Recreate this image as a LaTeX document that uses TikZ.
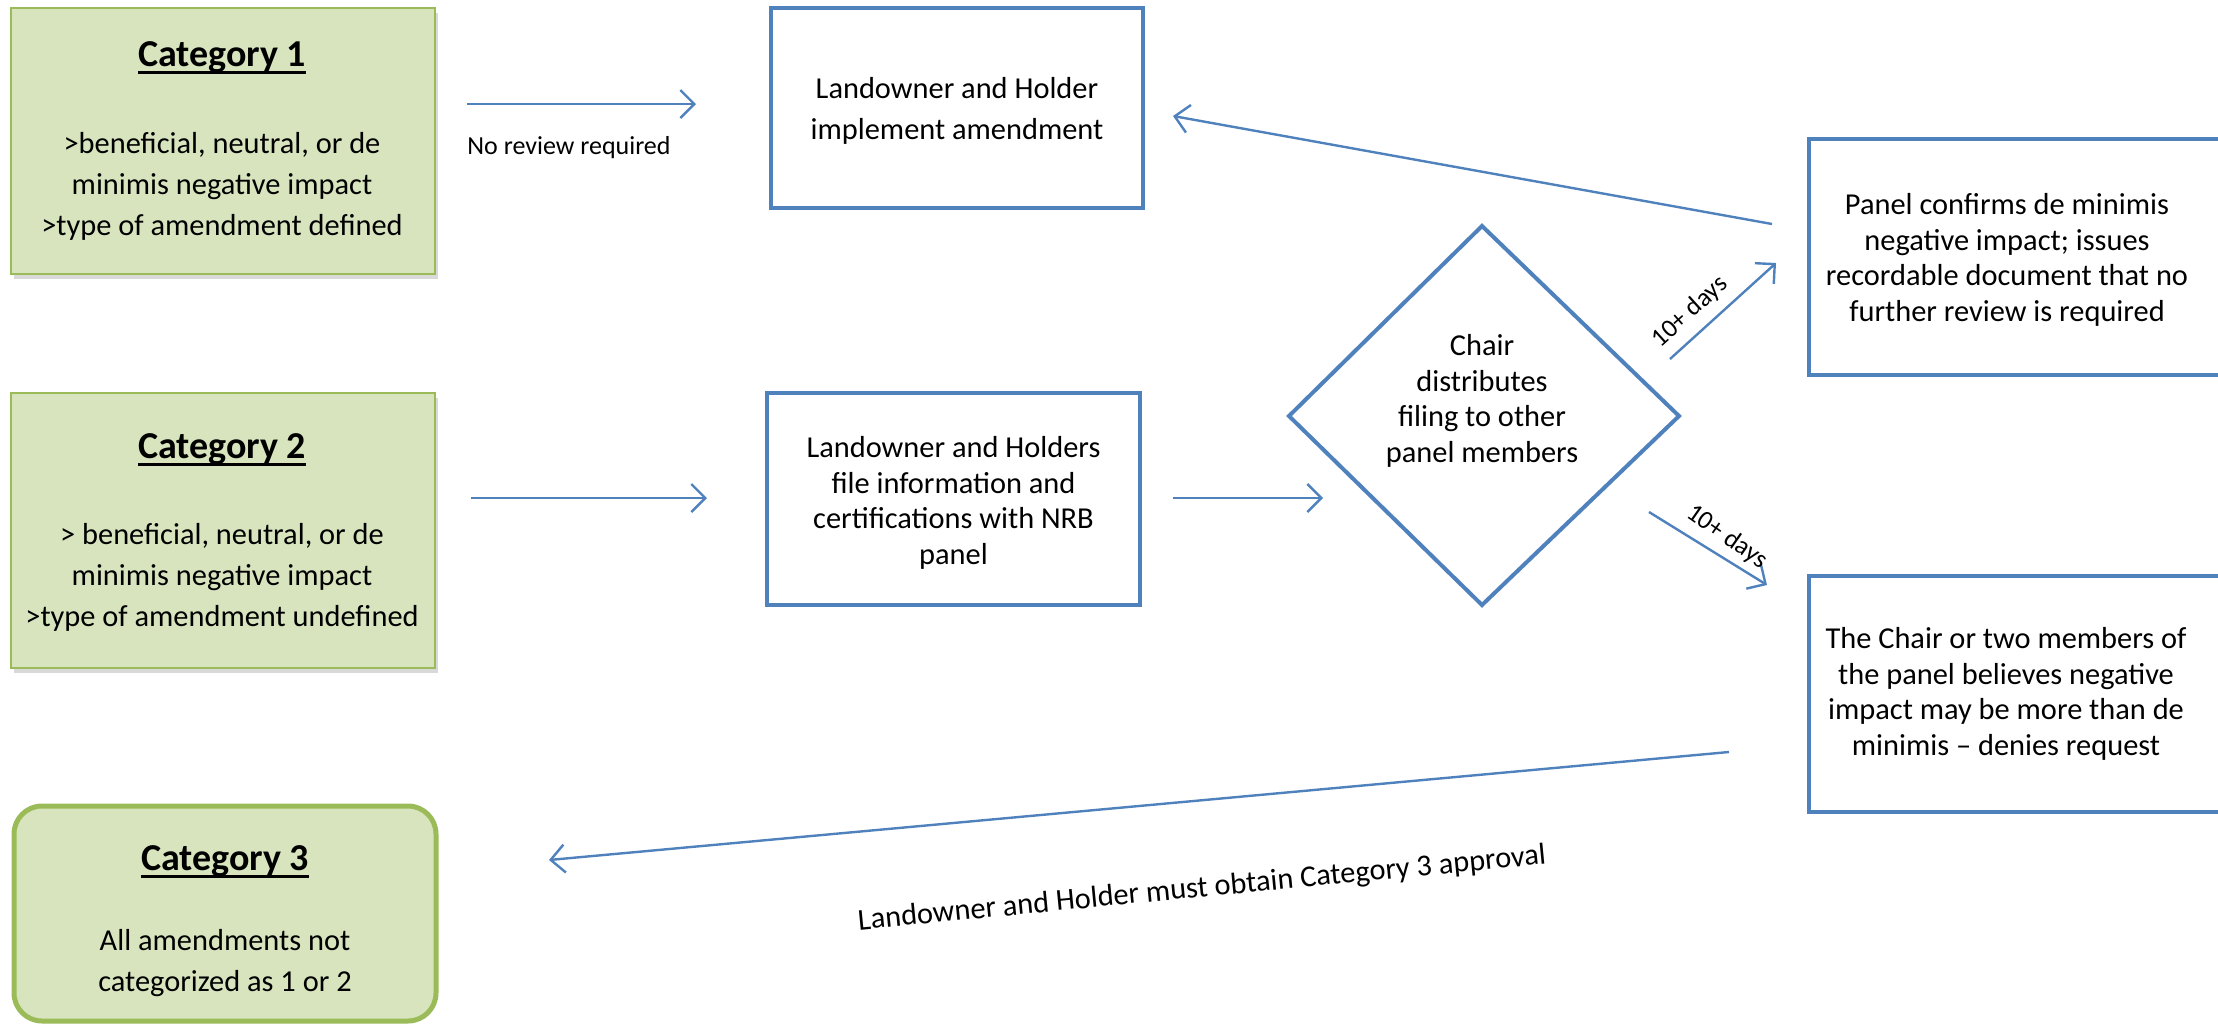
\documentclass[tikz,border=0pt]{standalone}
\usepackage{fontspec}
\setmainfont{Carlito}
\usetikzlibrary{arrows.meta,shadows}
\definecolor{catfill}{HTML}{D7E4BD}
\definecolor{catline}{HTML}{9BBB59}
\definecolor{boxblue}{HTML}{4F81BD}
\newcommand\thickul[1]{\setbox0\hbox{#1}\rlap{\raisebox{-3.8pt}{\rule{\wd0}{1.7pt}}}\box0}
\begin{document}
\begin{tikzpicture}[x=0.5pt,y=-0.5pt,
  catbox/.style={draw=catline, fill=catfill, line width=1.3pt, inner sep=0pt,
    minimum width=212pt, drop shadow={shadow xshift=1.5pt, shadow yshift=-2.5pt, opacity=0.3}},
  cat3box/.style={draw=catline, fill=catfill, line width=2.5pt, inner sep=0pt, rounded corners=14pt,
    minimum width=211pt, minimum height=107.5pt},
  bluebox/.style={draw=boxblue, line width=2pt, inner sep=0pt},
  cattitle/.style={font=\fontsize{19}{23}\selectfont\bfseries, inner sep=0pt},
  bodytxt/.style={font=\fontsize{15.2}{20.5}\selectfont, align=center, inner sep=0pt},
  tighttxt/.style={font=\fontsize{15.2}{17.8}\selectfont, align=center, inner sep=0pt},
  smalltxt/.style={font=\fontsize{13}{16}\selectfont, inner sep=0pt},
  flow/.style={draw=boxblue, line width=1.2pt, -{Straight Barb[length=7pt,width=14pt,line width=1.2pt]}},
]
\useasboundingbox (0,0) rectangle (2218,1024);
\clip (0,0) rectangle (2218,1024);

% Category boxes
\node[catbox, minimum height=133pt] (cat1) at (223,141) {};
\node[cattitle] (cat1t) at (222,58) {\thickul{Category 1}};
\node[bodytxt] (cat1b) at (222,186) {>beneficial, neutral, or de\\minimis negative impact\\>type of amendment defined};

\node[catbox, minimum height=137.5pt] (cat2) at (223,530.5) {};
\node[cattitle] (cat2t) at (222,450) {\thickul{Category 2}};
\node[bodytxt] (cat2b) at (222,577) {> beneficial, neutral, or de\\minimis negative impact\\>type of amendment undefined};

\node[cat3box] (cat3) at (225,913.5) {};
\node[cattitle] (cat3t) at (225,862) {\thickul{Category 3}};
\node[bodytxt] (cat3b) at (225,963) {All amendments not\\categorized as 1 or 2};

% Blue boxes
\node[bluebox, minimum width=186pt, minimum height=100pt] (boxA) at (957,108) {};
\node[bodytxt] (boxAt) at (957,111) {Landowner and Holder\\implement amendment};

\node[bluebox, minimum width=186.5pt, minimum height=106pt] (boxB) at (953.5,499) {};
\node[tighttxt] (boxBt) at (953.5,503) {Landowner and Holders\\file information and\\certifications with NRB\\panel};

\draw[bluebox] (1809,139) rectangle (2260,375);
\node[tighttxt] (boxP) at (2007,260) {Panel confirms de minimis\\negative impact; issues\\recordable document that no\\further review is required};

\draw[bluebox] (1809,576) rectangle (2260,812);
\node[tighttxt] (boxQ) at (2006,694) {The Chair or two members of\\the panel believes negative\\impact may be more than de\\minimis -- denies request};

% Diamond
\coordinate (dT) at (1482,226);
\coordinate (dR) at (1679,416);
\coordinate (dB) at (1482,605);
\coordinate (dL) at (1289,416);
\draw[draw=boxblue, line width=2pt, line join=miter] (dT) -- (dR) -- (dB) -- (dL) -- cycle;
\node[tighttxt] (chair) at (1482,401) {Chair\\distributes\\filing to other\\panel members};

% Connector ends
\coordinate (a1s) at (467,104);  \coordinate (a1e) at (696,104);
\coordinate (a2s) at (471,498);  \coordinate (a2e) at (707,498);
\coordinate (a3s) at (1173,498); \coordinate (a3e) at (1323,498);
\coordinate (a4s) at (1772,224); \coordinate (a4e) at (1173,116);
\coordinate (a5s) at (1670,359); \coordinate (a5e) at (1776,263);
\coordinate (a6s) at (1649,512); \coordinate (a6e) at (1767,585);
\coordinate (a7s) at (1729,752); \coordinate (a7e) at (549,860);

\draw[flow] (a1s) -- (a1e);
\draw[flow] (a2s) -- (a2e);
\draw[flow] (a3s) -- (a3e);
\draw[flow] (a4s) -- (a4e);
\draw[flow] (a5s) -- (a5e);
\draw[flow] (a6s) -- (a6e);
\draw[flow] (a7s) -- (a7e);

% Labels
\node[smalltxt, anchor=west] (lbl1) at (467,148) {No review required};
\node[smalltxt, rotate=42] (lbl5) at (1690,312) {10+ days};
\node[smalltxt, rotate=-35] (lbl6) at (1727,537) {10+ days};
\node[bodytxt, rotate=5.5] (lbl7) at (1202,889) {Landowner and Holder must obtain Category 3 approval};
\end{tikzpicture}
\end{document}
